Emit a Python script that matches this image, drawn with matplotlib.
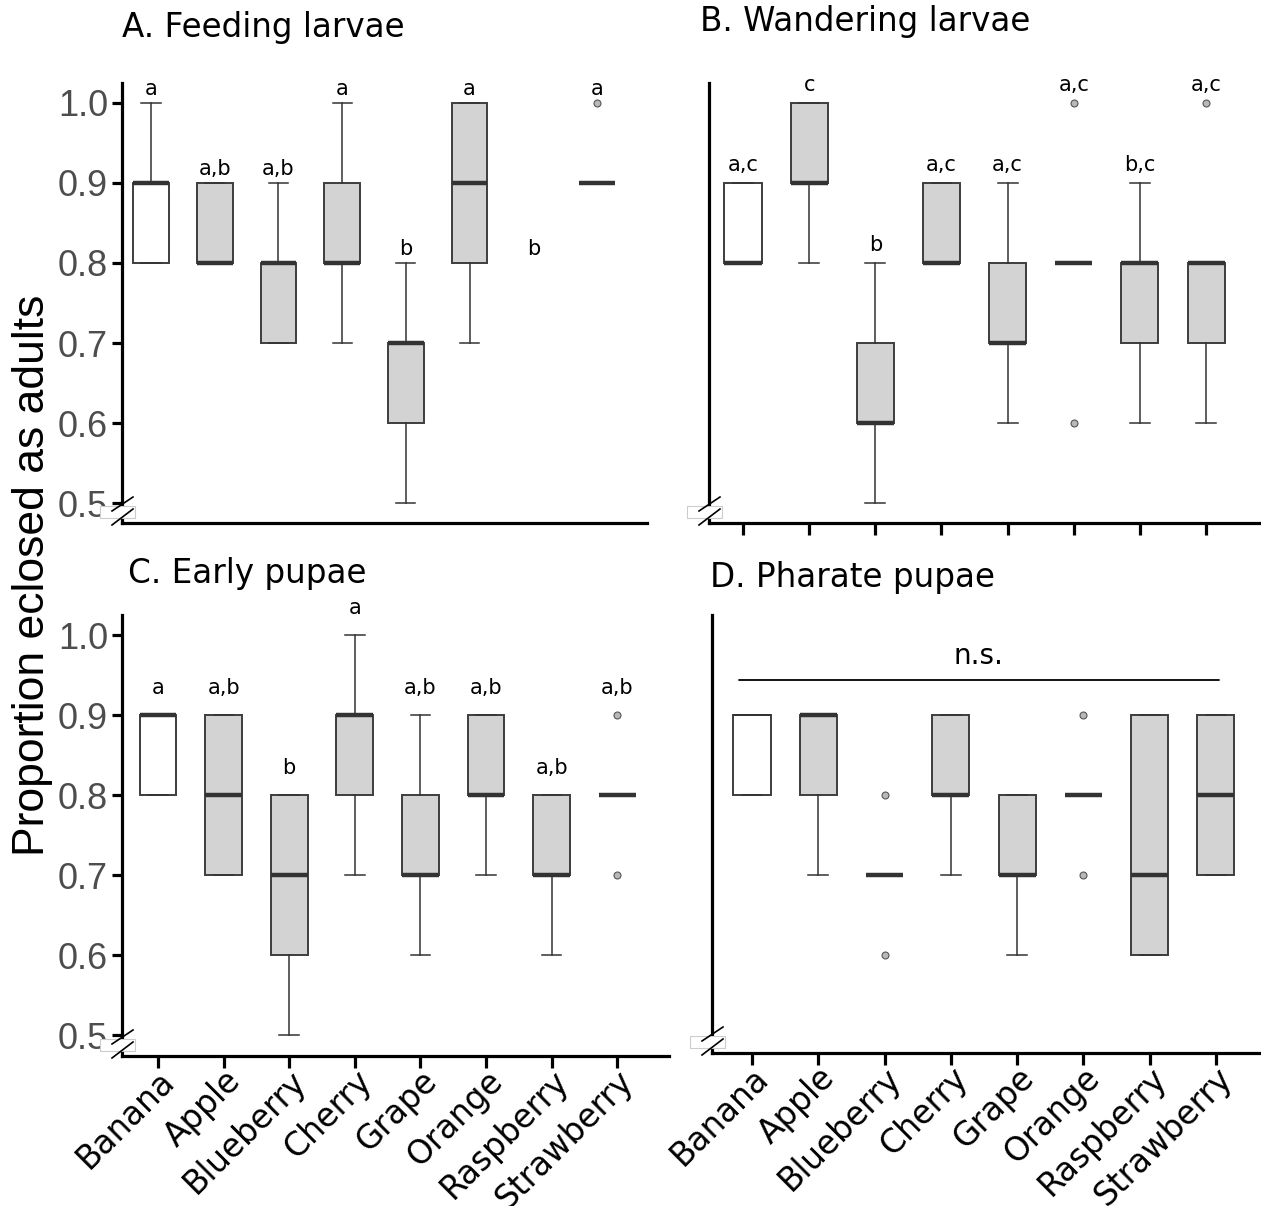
import matplotlib.pyplot as plt
from matplotlib.patches import Rectangle

W, H = 1261, 1206

fruits = ["Banana", "Apple", "Blueberry", "Cherry", "Grape", "Orange", "Raspberry", "Strawberry"]

# A. Feeding larvae (None = group not drawn in the figure)
feeding_low = [0.8, 0.8, 0.7, 0.7, 0.5, 0.7, None, 0.9]
feeding_q1 = [0.8, 0.8, 0.7, 0.8, 0.6, 0.8, None, 0.9]
feeding_med = [0.9, 0.8, 0.8, 0.8, 0.7, 0.9, None, 0.9]
feeding_q3 = [0.9, 0.9, 0.8, 0.9, 0.7, 1.0, None, 0.9]
feeding_high = [1.0, 0.9, 0.9, 1.0, 0.8, 1.0, None, 0.9]
feeding_out = [[], [], [], [], [], [], [], [1.0]]
feeding_letters = ["a", "a,b", "a,b", "a", "b", "a", "b", "a"]

# B. Wandering larvae
wandering_low = [0.8, 0.8, 0.5, 0.8, 0.6, 0.8, 0.6, 0.6]
wandering_q1 = [0.8, 0.9, 0.6, 0.8, 0.7, 0.8, 0.7, 0.7]
wandering_med = [0.8, 0.9, 0.6, 0.8, 0.7, 0.8, 0.8, 0.8]
wandering_q3 = [0.9, 1.0, 0.7, 0.9, 0.8, 0.8, 0.8, 0.8]
wandering_high = [0.9, 1.0, 0.8, 0.9, 0.9, 0.8, 0.9, 0.8]
wandering_out = [[], [], [], [], [], [1.0, 0.6], [], [1.0]]
wandering_letters = ["a,c", "c", "b", "a,c", "a,c", "a,c", "b,c", "a,c"]

# C. Early pupae
early_low = [0.8, 0.7, 0.5, 0.7, 0.6, 0.7, 0.6, 0.8]
early_q1 = [0.8, 0.7, 0.6, 0.8, 0.7, 0.8, 0.7, 0.8]
early_med = [0.9, 0.8, 0.7, 0.9, 0.7, 0.8, 0.7, 0.8]
early_q3 = [0.9, 0.9, 0.8, 0.9, 0.8, 0.9, 0.8, 0.8]
early_high = [0.9, 0.9, 0.8, 1.0, 0.9, 0.9, 0.8, 0.8]
early_out = [[], [], [], [], [], [], [], [0.9, 0.7]]
early_letters = ["a", "a,b", "b", "a", "a,b", "a,b", "a,b", "a,b"]

# D. Pharate pupae
pharate_low = [0.8, 0.7, 0.7, 0.7, 0.6, 0.8, 0.6, 0.7]
pharate_q1 = [0.8, 0.8, 0.7, 0.8, 0.7, 0.8, 0.6, 0.7]
pharate_med = [0.9, 0.9, 0.7, 0.8, 0.7, 0.8, 0.7, 0.8]
pharate_q3 = [0.9, 0.9, 0.7, 0.9, 0.8, 0.8, 0.9, 0.9]
pharate_high = [0.9, 0.9, 0.7, 0.9, 0.8, 0.8, 0.9, 0.9]
pharate_out = [[], [], [0.8, 0.6], [], [], [0.9, 0.7], [], []]

y_ticks = [0.5, 0.6, 0.7, 0.8, 0.9, 1.0]

fig = plt.figure(figsize=(W / 100, H / 100), dpi=100)


def add_panel(left, top, right, bottom):
	ax = fig.add_axes([left / W, 1 - bottom / H, (right - left) / W, (bottom - top) / H])
	ax.size_px = (right - left, bottom - top)
	for side in ['top', 'right']:
		ax.spines[side].set_visible(False)
	for side in ['left', 'bottom']:
		ax.spines[side].set_linewidth(2.3)
		ax.spines[side].set_color('black')
	ax.patch.set_alpha(0)
	return ax


def draw_boxes(ax, low, q1, med, q3, high, out):
	stats, pos = [], []
	for i in range(len(low)):
		if low[i] is None:
			continue
		stats.append(dict(whislo=low[i], q1=q1[i], med=med[i], q3=q3[i],
						  whishi=high[i], fliers=out[i]))
		pos.append(i + 1)
	res = ax.bxp(stats, positions=pos, widths=0.56, capwidths=0.3,
				 patch_artist=True, manage_ticks=False,
				 boxprops=dict(facecolor='#d3d3d3', edgecolor='#3d3d3d', linewidth=1.4),
				 medianprops=dict(color='#333333', linewidth=3.2, solid_capstyle='butt'),
				 whiskerprops=dict(color='#333333', linewidth=1.1),
				 capprops=dict(color='#333333', linewidth=1.1),
				 flierprops=dict(marker='o', markersize=5, markerfacecolor='#b8b8b8',
								 markeredgecolor='#555555', markeredgewidth=0.8))
	res['boxes'][0].set_facecolor('white')  # banana is the control
	return res


def add_letters(ax, letters, high, out, offset):
	for i, lab in enumerate(letters):
		if high[i] is None:
			top = 0.8  # no box drawn; letter sits at the 0.8 level
		else:
			top = max([high[i]] + out[i])
		ax.text(i + 1, top + offset, lab, ha='center', va='center', fontsize=15,
				family='DejaVu Sans')


def axis_break(ax):
	w, h = ax.size_px
	ax.add_patch(Rectangle((-22 / w, 5 / h), 35 / w, 12 / h, transform=ax.transAxes,
						   facecolor='white', edgecolor='#cccccc', lw=0.8,
						   clip_on=False, zorder=5))
	for (x0, y0), (x1, y1) in [((-10, 12), (11, 26)), ((-10, -2), (11, 14))]:
		ax.plot([x0 / w, x1 / w], [y0 / h, y1 / h], transform=ax.transAxes,
				color='black', lw=1.2, clip_on=False, zorder=6)


def style_y(ax, labels):
	ax.set_yticks(y_ticks)
	if labels:
		ax.set_yticklabels(['%.1f' % v for v in y_ticks], fontsize=26,
						   family='Liberation Sans', color='#4d4d4d')
		ax.tick_params(axis='y', length=7, width=2.3, pad=3)
	else:
		ax.tick_params(axis='y', length=0, labelleft=False)


def style_x(ax, ticks, labels):
	ax.set_xticks(range(1, len(fruits) + 1))
	if labels:
		ax.set_xticklabels(fruits, rotation=45, ha='right', rotation_mode='anchor',
						   fontsize=23.5, family='DejaVu Sans')
	else:
		ax.set_xticklabels([])
	ax.tick_params(axis='x', length=8.5 if ticks else 0, width=2.3, pad=-2.5)


ax_a = add_panel(122, 83, 647, 523)
ax_b = add_panel(709, 83, 1261, 523)
ax_c = add_panel(122, 615, 669, 1056)
ax_d = add_panel(712, 615, 1261, 1053)

ax_a.set_xlim(0.545, 8.785)
ax_b.set_xlim(0.486, 8.83)
ax_c.set_xlim(0.451, 8.79)
ax_d.set_xlim(0.397, 8.68)
for ax in [ax_a, ax_b]:
	ax.set_ylim(0.475, 1.025)
ax_c.set_ylim(0.474, 1.025)
ax_d.set_ylim(0.4775, 1.025)

draw_boxes(ax_a, feeding_low, feeding_q1, feeding_med, feeding_q3, feeding_high, feeding_out)
draw_boxes(ax_b, wandering_low, wandering_q1, wandering_med, wandering_q3, wandering_high, wandering_out)
draw_boxes(ax_c, early_low, early_q1, early_med, early_q3, early_high, early_out)
res_d = draw_boxes(ax_d, pharate_low, pharate_q1, pharate_med, pharate_q3, pharate_high, pharate_out)
res_d['medians'][0].set_linewidth(1.4)  # banana median not emphasised in panel D

add_letters(ax_a, feeding_letters, feeding_high, feeding_out, 0.018)
add_letters(ax_b, wandering_letters, wandering_high, wandering_out, 0.023)
add_letters(ax_c, early_letters, early_high, early_out, 0.034)

# no significant differences among pharate pupae
ax_d.plot([0.8, 8.05], [0.944, 0.944], color='black', lw=1.3, solid_capstyle='round')
ax_d.text(4.42, 0.974, 'n.s.', ha='center', va='center', fontsize=20, family='DejaVu Sans')

style_y(ax_a, True)
style_y(ax_b, False)
style_y(ax_c, True)
style_y(ax_d, False)
style_x(ax_a, False, False)
style_x(ax_b, True, False)
style_x(ax_c, True, True)
style_x(ax_d, True, True)

for ax in [ax_a, ax_b, ax_c, ax_d]:
	axis_break(ax)

titles = [("A. Feeding larvae", 122, 28), ("B. Wandering larvae", 700, 22),
		  ("C. Early pupae", 128, 573), ("D. Pharate pupae", 710, 577)]
for txt, x, y in titles:
	fig.text(x / W, 1 - y / H, txt, ha='left', va='center', fontsize=23.5, family='DejaVu Sans')

fig.text(33 / W, 1 - 575 / H, "Proportion eclosed as adults", rotation=90,
		 ha='center', va='center', fontsize=32, family='Liberation Sans')

fig.savefig('out.png', dpi=100)
